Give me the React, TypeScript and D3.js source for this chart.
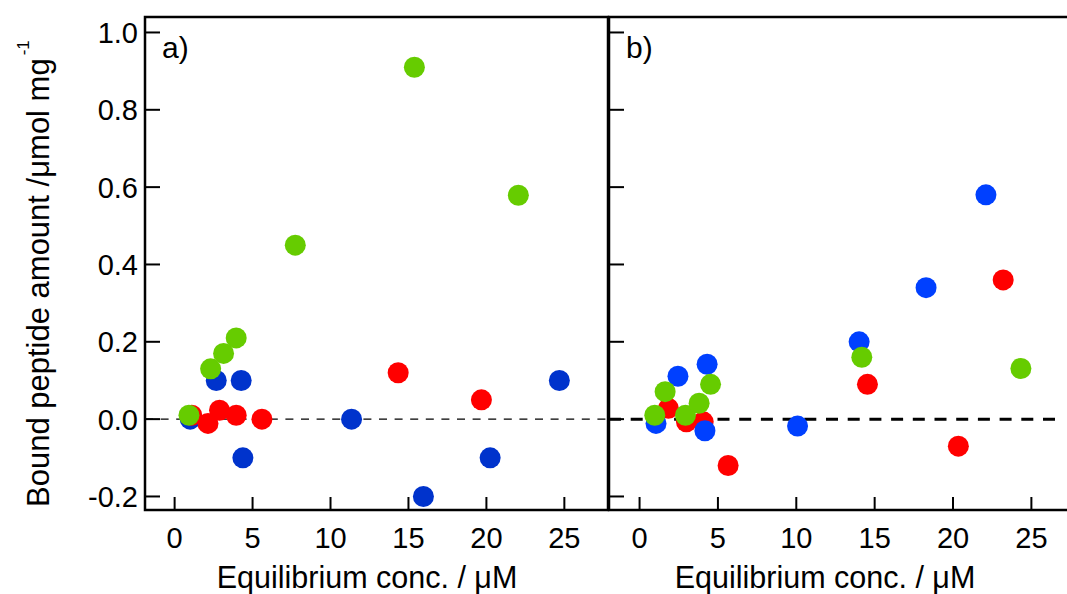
import React from 'react';
import * as d3 from 'd3';

// panel a) data: [equilibrium conc. (uM), bound amount (umol/mg)]
const aBlue: [number, number][] = [
  [1.0, 0.0], [2.67, 0.1], [4.27, 0.1], [4.38, -0.1],
  [11.35, 0.0], [15.96, -0.2], [20.24, -0.1], [24.68, 0.1],
];
const aRed: [number, number][] = [
  [1.1, 0.01], [2.14, -0.011], [2.88, 0.023], [3.95, 0.01],
  [5.6, 0.0], [14.34, 0.12], [19.68, 0.05],
];
const aGreen: [number, number][] = [
  [0.92, 0.01], [2.31, 0.13], [3.14, 0.17], [3.95, 0.21],
  [7.74, 0.45], [15.38, 0.91], [22.05, 0.579],
];

// panel b) data
const bBlue: [number, number][] = [
  [1.05, -0.011], [2.45, 0.111], [4.31, 0.142], [4.17, -0.03],
  [10.08, -0.018], [14.01, 0.2], [18.28, 0.34], [22.1, 0.58],
];
const bRed: [number, number][] = [
  [1.84, 0.028], [2.99, -0.007], [4.06, -0.007], [5.65, -0.12],
  [14.54, 0.09], [20.34, -0.07], [23.2, 0.36],
];
const bGreen: [number, number][] = [
  [0.97, 0.01], [1.63, 0.071], [2.93, 0.01], [3.8, 0.041],
  [4.53, 0.09], [14.18, 0.16], [24.33, 0.131],
];

const xTicks = [0, 5, 10, 15, 20, 25];
const yTicks = [-0.2, 0, 0.2, 0.4, 0.6, 0.8, 1.0];

const font = '"Liberation Sans", Arial, Helvetica, sans-serif';
const top = 17;
const bottom = 510;
const R = 10.5;

const y = d3.scaleLinear().domain([-0.235, 1.04]).range([bottom, top]);

type Panel = {
  label: string;
  left: number;
  right: number;
  xDomain: [number, number];
  series: { data: [number, number][]; color: string }[];
  dash: { width: number; pattern: string; end: number };
  titleX: number;
  yTickLabels: boolean;
};

const panels: Panel[] = [
  {
    label: 'a)',
    left: 145,
    right: 608,
    xDomain: [-1.9, 27.8],
    series: [
      { data: aBlue, color: '#0033cc' },
      { data: aRed, color: '#ff0000' },
      { data: aGreen, color: '#66cc00' },
    ],
    dash: { width: 1.2, pattern: '8 7.6', end: 608 },
    titleX: 367,
    yTickLabels: true,
  },
  {
    label: 'b)',
    left: 609,
    right: 1069,
    xDomain: [-1.95, 27.4],
    series: [
      { data: bRed, color: '#ff0000' },
      { data: bBlue, color: '#0040ff' },
      { data: bGreen, color: '#66cc00' },
    ],
    dash: { width: 3, pattern: '12 9.7', end: 1060 },
    titleX: 825,
    yTickLabels: false,
  },
];

function PanelView({ p }: { p: Panel }) {
  const x = d3.scaleLinear().domain(p.xDomain).range([p.left, p.right]);
  return (
    <g>
      {/* zero line */}
      <line x1={p.left} x2={p.dash.end} y1={y(0)} y2={y(0)}
        stroke="#000" strokeWidth={p.dash.width} strokeDasharray={p.dash.pattern} />
      {p.series.map((s, i) => (
        <g key={i}>
          {s.data.map((d, j) => (
            <circle key={j} cx={x(d[0])} cy={y(d[1])} r={R} fill={s.color} />
          ))}
        </g>
      ))}
      {/* frame */}
      <rect x={p.left} y={top} width={p.right - p.left} height={bottom - top}
        fill="none" stroke="#000" strokeWidth={2.5} />
      {/* y ticks, inward */}
      {yTicks.map((t) => (
        <line key={t} x1={p.left} x2={p.left + 15} y1={y(t)} y2={y(t)} stroke="#000" strokeWidth={2} />
      ))}
      {p.yTickLabels && yTicks.map((t) => (
        <text key={t} x={138} y={y(t)} dy="0.36em" textAnchor="end" fontSize={29} fontFamily={font}>
          {t.toFixed(1)}
        </text>
      ))}
      {/* x ticks, inward */}
      {xTicks.map((t) => (
        <g key={t}>
          <line x1={x(t)} x2={x(t)} y1={bottom} y2={bottom - 13} stroke="#000" strokeWidth={2} />
          <text x={x(t)} y={548} textAnchor="middle" fontSize={29} fontFamily={font}>{t}</text>
        </g>
      ))}
      <text x={p.titleX} y={588} textAnchor="middle" fontSize={30.5} fontFamily={font}>
        Equilibrium conc. / μM
      </text>
      <text x={p.left + 17} y={58} fontSize={30} fontFamily={font}>{p.label}</text>
    </g>
  );
}

export default function App() {
  return (
    <svg width={1067} height={594} style={{ position: 'absolute', left: 0, top: 0, background: '#fff' }}>
      {panels.map((p) => <PanelView key={p.label} p={p} />)}
      <text transform="translate(49,507) rotate(-90)" fontSize={31} fontFamily={font}>
        Bound peptide amount /μmol mg
        <tspan dx={3} dy={-20} fontSize={17}>-1</tspan>
      </text>
    </svg>
  );
}
